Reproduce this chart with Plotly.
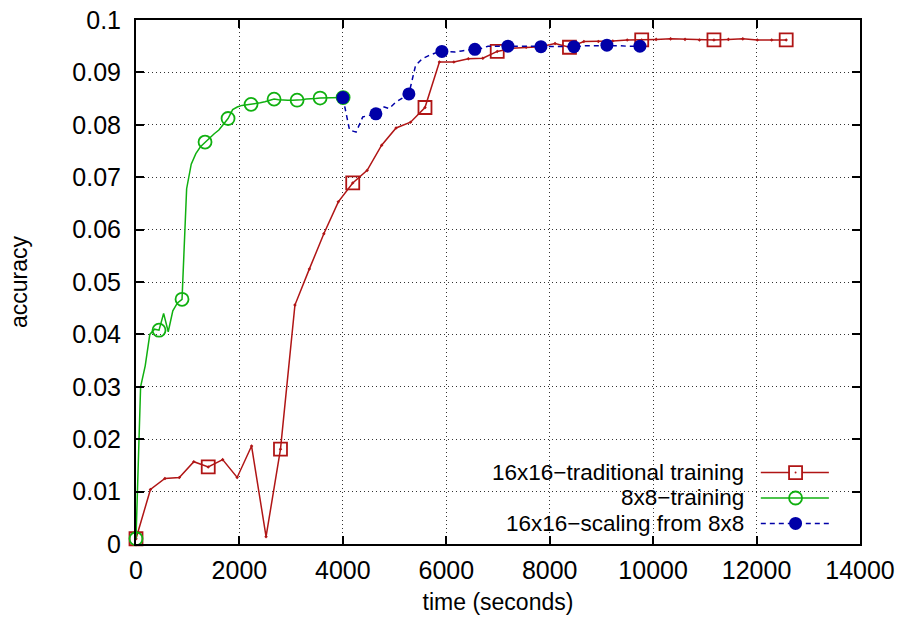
import plotly.graph_objects as go

# ---------------- data ----------------
trad_time = [0, 279, 559, 838, 1118, 1397, 1676, 1956, 2235, 2515,
             2794, 3073, 3353, 3632, 3912, 4191, 4470, 4750, 5029, 5309,
             5588, 5867, 6147, 6426, 6706, 6985, 7264, 7544, 7823, 8103,
             8382, 8661, 8941, 9220, 9499, 9779, 10058, 10338, 10617, 10896,
             11176, 11455, 11734, 12014, 12293, 12573]
trad_acc = [0.0010, 0.0104, 0.0125, 0.0127, 0.0157, 0.0147, 0.0161, 0.0127, 0.0187, 0.0014,
            0.0181, 0.0456, 0.0525, 0.0592, 0.0653, 0.0689, 0.0713, 0.0761, 0.0794, 0.0805,
            0.0833, 0.0920, 0.0920, 0.0926, 0.0927, 0.0940, 0.0946, 0.0948, 0.0949, 0.0955,
            0.0948, 0.0959, 0.0959, 0.0960, 0.0962, 0.0962, 0.0963, 0.0964, 0.0963, 0.0962,
            0.0962, 0.0963, 0.0964, 0.0962, 0.0962, 0.0962]

small_time = [0, 89, 178, 267, 356, 445, 534, 623, 712, 801,
              890, 979, 1068, 1157, 1246, 1335, 1424, 1513, 1602, 1691,
              1780, 1869, 1958, 2047, 2136, 2225, 2314, 2403, 2492, 2581,
              2670, 2759, 2848, 2937, 3026, 3115, 3204, 3293, 3382, 3471,
              3560, 3649, 3738, 3827, 3916, 4005]
small_acc = [0.0010, 0.0300, 0.0340, 0.0400, 0.0410, 0.0408, 0.0440, 0.0405, 0.0445, 0.0460,
             0.0467, 0.0678, 0.0725, 0.0745, 0.0758, 0.0767, 0.0776, 0.0783, 0.0790, 0.0800,
             0.0812, 0.0829, 0.0834, 0.0837, 0.0838, 0.0839, 0.0841, 0.0842, 0.0844, 0.0847,
             0.0849, 0.0848, 0.0847, 0.0847, 0.0847, 0.0847, 0.0848, 0.0849, 0.0849, 0.0850,
             0.0851, 0.0851, 0.0851, 0.0851, 0.0852, 0.0852]

scale_time = [4001, 4129, 4256, 4384, 4511, 4639, 4767, 4894, 5022, 5150,
              5277, 5405, 5532, 5660, 5788, 5915, 6043, 6171, 6298, 6426,
              6553, 6681, 6808, 6936, 7064, 7191, 7319, 7447, 7574, 7702,
              7830, 7957, 8085, 8213, 8340, 8468, 8595, 8723, 8851, 8978,
              9106, 9234, 9361, 9489, 9617, 9744]
scale_acc = [0.0852, 0.0790, 0.0786, 0.0815, 0.0818, 0.0821, 0.0835, 0.0831, 0.0843, 0.0851,
             0.0859, 0.0913, 0.0926, 0.0932, 0.0937, 0.0940, 0.0940, 0.0939, 0.0941, 0.0943,
             0.0944, 0.0946, 0.0950, 0.0950, 0.0950, 0.0950, 0.0950, 0.0951, 0.0950, 0.0950,
             0.0949, 0.0949, 0.0949, 0.0949, 0.0949, 0.0949, 0.0950, 0.0951, 0.0951, 0.0951,
             0.0952, 0.0951, 0.0951, 0.0950, 0.0950, 0.0950]

series_names = ["16x16\u2212traditional training", "8x8\u2212training", "16x16\u2212scaling from 8x8"]
x_ticks = [0, 2000, 4000, 6000, 8000, 10000, 12000, 14000]
x_tick_text = ["0", "2000", "4000", "6000", "8000", "10000", "12000", "14000"]
y_ticks = [0, 0.01, 0.02, 0.03, 0.04, 0.05, 0.06, 0.07, 0.08, 0.09, 0.1]
y_tick_text = ["0", "0.01", "0.02", "0.03", "0.04", "0.05", "0.06", "0.07", "0.08", "0.09", "0.1"]

# ---------------- style ----------------
RED = "#b01515"
GREEN = "#10b010"
BLUE = "#0000a8"
FONT = "Liberation Sans, Arial, sans-serif"
MSIZE = 13
EVERY = 5

def sizes(n):
    return [MSIZE if i % EVERY == 0 else 0 for i in range(n)]

fig = go.Figure()
fig.add_trace(go.Scatter(
    x=trad_time, y=trad_acc, mode="lines+markers", name=series_names[0],
    line=dict(color=RED, width=1.5),
    marker=dict(symbol="square-open-dot", size=sizes(len(trad_time)), color=RED, opacity=1,
                line=dict(color=RED, width=1.8)),
    cliponaxis=False, showlegend=False))
fig.add_trace(go.Scatter(
    x=small_time, y=small_acc, mode="lines+markers", name=series_names[1],
    line=dict(color=GREEN, width=1.5),
    marker=dict(symbol="circle-open", size=sizes(len(small_time)), color=GREEN, opacity=1,
                line=dict(color=GREEN, width=1.8)),
    cliponaxis=False, showlegend=False))
fig.add_trace(go.Scatter(
    x=scale_time, y=scale_acc, mode="lines+markers", name=series_names[2],
    line=dict(color=BLUE, width=1.5, dash="5px,4px"),
    marker=dict(symbol="circle", size=sizes(len(scale_time)), color=BLUE, opacity=1,
                line=dict(width=0)),
    cliponaxis=False, showlegend=False))

# ---------------- manual gnuplot-style key ----------------
key_rows = [0.1364, 0.0878, 0.0392]
key_text_x = 0.8425
key_line = (0.863, 0.957)
key_mark_x = 0.911
colors = [RED, GREEN, BLUE]
shapes = [
    # blank the grid behind the key
    dict(type="rect", xref="paper", yref="paper", x0=0.3, x1=0.975, y0=0.0, y1=0.165,
         fillcolor="white", line=dict(width=0), layer="between"),
]
annotations = []
for i, (name, yy, c) in enumerate(zip(series_names, key_rows, colors)):
    annotations.append(dict(xref="paper", yref="paper", x=key_text_x, y=yy, text=name,
                            showarrow=False, xanchor="right", yanchor="middle",
                            font=dict(family=FONT, size=22.5, color="black")))
    shapes.append(dict(type="line", xref="paper", yref="paper", x0=key_line[0], x1=key_line[1],
                       y0=yy, y1=yy,
                       line=dict(color=c, width=1.5, dash="5px,4px" if i == 2 else "solid")))
    h = MSIZE / 2
    if i == 0:
        shapes.append(dict(type="rect", xref="paper", yref="paper", xsizemode="pixel", ysizemode="pixel",
                           xanchor=key_mark_x, yanchor=yy, x0=-h, x1=h, y0=-h, y1=h,
                           fillcolor="white", line=dict(color=c, width=1.8)))
        shapes.append(dict(type="circle", xref="paper", yref="paper", xsizemode="pixel", ysizemode="pixel",
                           xanchor=key_mark_x, yanchor=yy, x0=-1, x1=1, y0=-1, y1=1,
                           fillcolor=c, line=dict(color=c, width=0)))
    elif i == 1:
        shapes.append(dict(type="circle", xref="paper", yref="paper", xsizemode="pixel", ysizemode="pixel",
                           xanchor=key_mark_x, yanchor=yy, x0=-h, x1=h, y0=-h, y1=h,
                           fillcolor="rgba(0,0,0,0)", line=dict(color=c, width=1.8)))
    else:
        shapes.append(dict(type="circle", xref="paper", yref="paper", xsizemode="pixel", ysizemode="pixel",
                           xanchor=key_mark_x, yanchor=yy, x0=-h, x1=h, y0=-h, y1=h,
                           fillcolor=c, line=dict(color=c, width=0)))

axis_common = dict(
    showline=True, linecolor="black", linewidth=2, mirror="ticks",
    ticks="inside", ticklen=8, tickwidth=1.5, tickcolor="black",
    showgrid=True, gridcolor="#333333", gridwidth=1, griddash="1px,3px",
    zeroline=False, tickfont=dict(family=FONT, size=25, color="black"),
    automargin=False, ticklabeloverflow="allow",
)

fig.update_layout(
    width=903, height=620,
    margin=dict(l=136, r=43, t=20, b=76),
    paper_bgcolor="white", plot_bgcolor="white",
    font=dict(family=FONT, size=24, color="black"),
    xaxis=dict(range=[0, 14000], tickvals=x_ticks, ticktext=x_tick_text, ticklabelstandoff=3,
               title=dict(text="time (seconds)", standoff=11,
                          font=dict(family=FONT, size=23, color="black")),
               **axis_common),
    yaxis=dict(range=[0, 0.1], tickvals=y_ticks, ticktext=y_tick_text, ticklabelstandoff=8,
               title=dict(text="accuracy", standoff=38,
                          font=dict(family=FONT, size=23, color="black")),
               **axis_common),
    shapes=shapes, annotations=annotations,
)

# remove the browser's default 8px body margin so the figure fills the window exactly
fig.write_html("out.html", config={"displayModeBar": False},
               post_script="document.body.style.margin='0';")
